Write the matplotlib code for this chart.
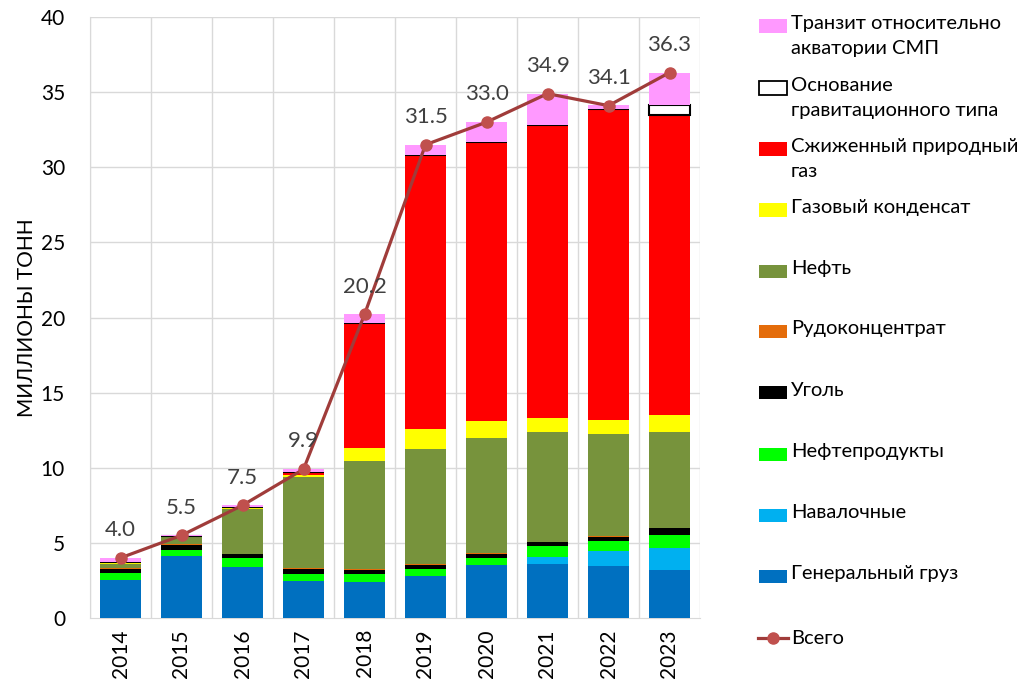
import matplotlib
matplotlib.use("Agg")
import matplotlib.pyplot as plt
import numpy as np
from matplotlib.patches import Rectangle
from matplotlib.lines import Line2D

plt.rcParams['font.family'] = ['Lato', 'Noto Sans', 'DejaVu Sans']

years = ['2014', '2015', '2016', '2017', '2018', '2019', '2020', '2021', '2022', '2023']

# millions of tonnes, bottom of the stack first
general = [2.53, 4.15, 3.41, 2.48, 2.42, 2.80, 3.55, 3.57, 3.48, 3.21]
bulk = [0, 0, 0, 0, 0, 0, 0, 0.51, 0.96, 1.45]
oil_products = [0.47, 0.35, 0.60, 0.42, 0.51, 0.46, 0.46, 0.73, 0.68, 0.86]
coal = [0.25, 0.34, 0.23, 0.36, 0.26, 0.29, 0.23, 0.25, 0.29, 0.49]
ore = [0.05, 0.08, 0.05, 0.07, 0.07, 0.03, 0.06, 0.03, 0.07, 0.0]
oil = [0.30, 0.45, 2.94, 6.07, 7.21, 7.64, 7.70, 7.29, 6.78, 6.37]
condensate = [0.15, 0.10, 0.14, 0.11, 0.82, 1.35, 1.09, 0.95, 0.89, 1.11]
lng = [0, 0, 0, 0.22, 8.36, 18.23, 18.61, 19.45, 20.72, 19.98]
gbs = [0, 0, 0, 0, 0, 0, 0, 0, 0, 0.66]
transit = [0.25, 0.05, 0.13, 0.20, 0.55, 0.70, 1.28, 2.10, 0.26, 2.13]
total = [4.0, 5.5, 7.5, 9.9, 20.2, 31.5, 33.0, 34.9, 34.1, 36.3]

series = [
    ('Генеральный груз', general, '#0070c0'),
    ('Навалочные', bulk, '#00b0f0'),
    ('Нефтепродукты', oil_products, '#00ff00'),
    ('Уголь', coal, '#000000'),
    ('Рудоконцентрат', ore, '#e46c0a'),
    ('Нефть', oil, '#77933c'),
    ('Газовый конденсат', condensate, '#ffff00'),
    ('Сжиженный природный\nгаз', lng, '#ff0000'),
    ('Основание\nгравитационного типа', gbs, '#ffffff'),
    ('Транзит относительно\nакватории СМП', transit, '#ff99ff'),
]

fig = plt.figure(figsize=(10.33, 6.83), dpi=100)
ax = fig.add_axes([90 / 1033, 65 / 683, 610 / 1033, 601 / 683])

x = np.arange(len(years))
bottom = np.zeros(len(years))
for name, vals, col in series:
    vals = np.array(vals)
    if col == '#ffffff':
        ax.bar(x, vals, 0.67, bottom=bottom, color=col, edgecolor='black', linewidth=1.5, zorder=3)
    else:
        ax.bar(x, vals, 0.67, bottom=bottom, color=col, linewidth=0, zorder=3)
    bottom += vals

ax.plot(x, total, color='#a03c3a', linewidth=2.3, marker='o', markersize=8,
        markerfacecolor='#c0504d', markeredgecolor='#c0504d', zorder=4)
for xi, t in zip(x, total):
    ax.annotate(f'{t:.1f}', (xi, t), xytext=(0, 20), textcoords='offset points',
                ha='center', va='center', fontsize=16, color='#404040', zorder=5)

ax.set_xlim(-0.5, 9.5)
ax.set_ylim(0, 40)
ax.set_yticks(range(0, 41, 5))
ax.set_xticks(x)
ax.set_xticklabels(years, rotation=90, fontsize=15)
ax.tick_params(axis='y', labelsize=15, length=0, pad=18)
ax.tick_params(axis='x', length=0, pad=8)
ax.set_ylabel('МИЛЛИОНЫ ТОНН', fontsize=15, labelpad=3)

for y in range(5, 41, 5):
    ax.axhline(y, color='#d9d9d9', linewidth=1, zorder=1)
for b in np.arange(-0.5, 10, 1):
    ax.axvline(b, color='#d9d9d9', linewidth=1, zorder=1)
for s in ['top', 'right']:
    ax.spines[s].set_visible(False)
for s in ['left', 'bottom']:
    ax.spines[s].set_color('#d9d9d9')

# legend, drawn by hand in pixel positions (Excel spacing)
W, H = 1033, 683
legend_y = [26, 88, 149, 210, 271, 331, 393, 454, 515, 576]
for (name, vals, col), py in zip(series[::-1], legend_y):
    ec = 'black' if col == '#ffffff' else col
    fig.add_artist(Rectangle((759 / W, 1 - (py + 6.5) / H), 28 / W, 13 / H,
                             facecolor=col, edgecolor=ec, linewidth=1.3 if col == '#ffffff' else 0,
                             transform=fig.transFigure))
    fig.text(791 / W, 1 - (py - 11) / H, name, fontsize=14.5, va='top', ha='left',
             linespacing=1.55)
py = 638
fig.add_artist(Line2D([758 / W, 788 / W], [1 - py / H, 1 - py / H], color='#a03c3a',
                      linewidth=2.3, transform=fig.transFigure))
fig.add_artist(Line2D([773 / W], [1 - py / H], marker='o', markersize=8,
                      color='#c0504d', transform=fig.transFigure))
fig.text(791 / W, 1 - py / H, 'Всего', fontsize=14.5, va='center', ha='left')

fig.savefig('out.png', dpi=100)
